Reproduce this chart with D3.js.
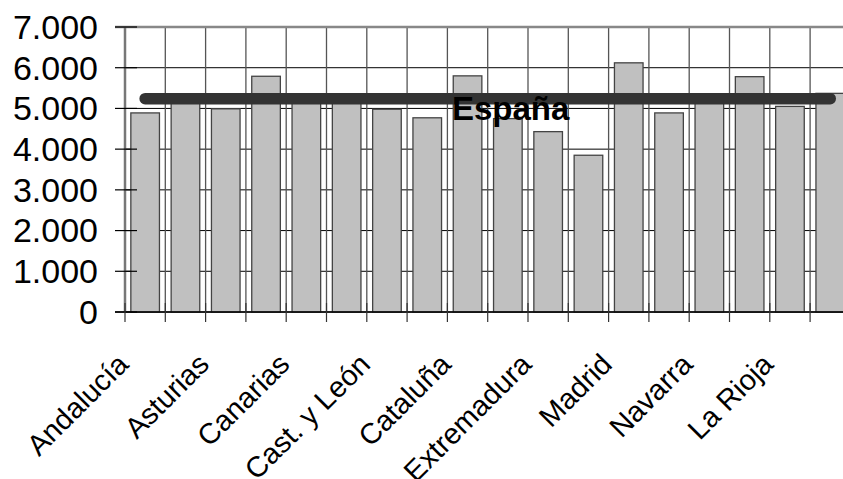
<!DOCTYPE html>
<html>
<head>
<meta charset="utf-8">
<script src="https://cdn.jsdelivr.net/npm/d3@7/dist/d3.min.js"></script>
<style>
  html, body { margin: 0; padding: 0; background: #fff; }
  svg { display: block; font-family: "Liberation Sans", Arial, sans-serif; }
</style>
</head>
<body>
<div id="chart"></div>
<script>
// comunidades autónomas (solo se rotulan las pares)
var categories = ["Andalucía", "Aragón", "Asturias", "Baleares", "Canarias", "Cantabria",
  "Cast. y León", "Cast.-La Mancha", "Cataluña", "C. Valenciana", "Extremadura", "Galicia",
  "Madrid", "Murcia", "Navarra", "País Vasco", "La Rioja", "Ceuta y Melilla"];
var values = [4890, 5300, 4990, 5790, 5250, 5280, 4980, 4770, 5800, 4750, 4430, 3850,
  6120, 4890, 5300, 5780, 5050, 5370];
var espana = 5240;
var espanaLabel = "España";
var yTicks = [0, 1000, 2000, 3000, 4000, 5000, 6000, 7000];

var chartW = 843, chartH = 479;
var plotLeft = 125, plotTop = 27, plotBottom = 312, step = 40.3;

var svg = d3.select("#chart").append("svg")
  .attr("width", chartW)
  .attr("height", chartH);

var x = d3.scaleBand()
  .domain(categories)
  .range([plotLeft, plotLeft + step * categories.length])
  .padding(0);

var xBar = x.copy().paddingInner(0.29).paddingOuter(0.145);

var y = d3.scaleLinear()
  .domain([0, 7000])
  .range([plotBottom, plotTop]);

var fmt = d3.formatLocale({ decimal: ",", thousands: ".", grouping: [3], currency: ["", "€"] }).format(",d");

// rejilla horizontal
svg.append("g").selectAll("line")
  .data(yTicks)
  .enter().append("line")
  .attr("x1", plotLeft).attr("x2", chartW)
  .attr("y1", function(d) { return y(d); })
  .attr("y2", function(d) { return y(d); })
  .attr("stroke", "#000")
  .attr("stroke-width", 1);

// rejilla vertical
svg.append("g").selectAll("line")
  .data(categories)
  .enter().append("line")
  .attr("x1", function(d) { return x(d); })
  .attr("x2", function(d) { return x(d); })
  .attr("y1", plotTop).attr("y2", plotBottom)
  .attr("stroke", "#555")
  .attr("stroke-width", 1.3);

// barras
svg.append("g").selectAll("rect")
  .data(values)
  .enter().append("rect")
  .attr("x", function(d, i) { return xBar(categories[i]); })
  .attr("y", function(d) { return y(d); })
  .attr("width", xBar.bandwidth())
  .attr("height", function(d) { return plotBottom - y(d); })
  .attr("fill", "#c0c0c0")
  .attr("stroke", "#444")
  .attr("stroke-width", 1.3);

// marco superior e izquierdo
svg.append("line")
  .attr("x1", plotLeft - 10).attr("x2", chartW)
  .attr("y1", plotTop).attr("y2", plotTop)
  .attr("stroke", "#888").attr("stroke-width", 2.5);
svg.append("line")
  .attr("x1", plotLeft).attr("x2", plotLeft)
  .attr("y1", plotTop).attr("y2", plotBottom)
  .attr("stroke", "#777").attr("stroke-width", 2.5);
svg.append("line")
  .attr("x1", plotLeft - 10).attr("x2", chartW)
  .attr("y1", plotBottom).attr("y2", plotBottom)
  .attr("stroke", "#000").attr("stroke-width", 1.5);

// marcas eje Y
var yAxis = svg.append("g");
yAxis.selectAll("line")
  .data(yTicks)
  .enter().append("line")
  .attr("x1", plotLeft - 10).attr("x2", plotLeft + 12)
  .attr("y1", function(d) { return y(d); })
  .attr("y2", function(d) { return y(d); })
  .attr("stroke", "#000").attr("stroke-width", 1.2);
yAxis.selectAll("text")
  .data(yTicks)
  .enter().append("text")
  .attr("x", plotLeft - 27)
  .attr("y", function(d) { return y(d); })
  .attr("dy", "0.35em")
  .attr("text-anchor", "end")
  .attr("font-size", 34)
  .attr("fill", "#000")
  .text(function(d) { return fmt(d); });

// marcas eje X
var xAxis = svg.append("g");
xAxis.selectAll("line")
  .data(categories)
  .enter().append("line")
  .attr("x1", function(d) { return x(d); })
  .attr("x2", function(d) { return x(d); })
  .attr("y1", plotBottom - 9).attr("y2", plotBottom + 10)
  .attr("stroke", "#333").attr("stroke-width", 1.2);
xAxis.selectAll("text")
  .data(categories.filter(function(d, i) { return i % 2 === 0; }))
  .enter().append("text")
  .attr("transform", function(d) {
    return "translate(" + (x(d) + x.bandwidth() / 2 - 15) + "," + 366 + ") rotate(-45)";
  })
  .attr("text-anchor", "end")
  .attr("font-size", 29)
  .attr("fill", "#000")
  .text(function(d) { return d; });

// línea España
var line = d3.line()
  .x(function(d) { return x(d) + x.bandwidth() / 2; })
  .y(function() { return y(espana); });
svg.append("path")
  .attr("d", line([categories[0], categories[categories.length - 1]]))
  .attr("fill", "none")
  .attr("stroke", "#333")
  .attr("stroke-width", 11.5)
  .attr("stroke-linecap", "round");

svg.append("text")
  .attr("x", 452)
  .attr("y", 120)
  .attr("font-size", 33)
  .attr("font-weight", "bold")
  .attr("fill", "#000")
  .text(espanaLabel);
</script>
</body>
</html>
